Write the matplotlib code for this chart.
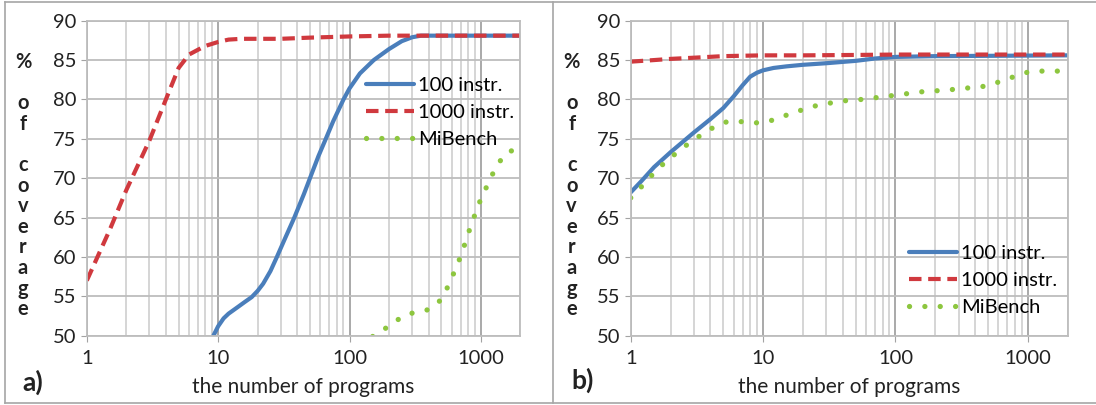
# Coverage vs number of programs, two panels (a, b)

import numpy as np
import matplotlib.pyplot as plt
from matplotlib.lines import Line2D
from matplotlib.ticker import FixedLocator, NullFormatter, LogLocator

plt.rcParams['font.family'] = ['Lato', 'DejaVu Sans']

# ---- panel a) ----
a_1000_x = [1, 1.5, 2, 3, 4, 5, 6, 7, 8, 10, 12, 15, 20, 30, 50, 100, 200, 500, 2000]
a_1000_y = [57.0, 63.5, 68.5, 74.8, 80.0, 84.0, 85.7, 86.3, 86.8, 87.3, 87.6, 87.7, 87.7,
            87.7, 87.85, 88.0, 88.1, 88.1, 88.1]

a_100_x = [9.2, 10, 11, 12, 14, 16, 18, 20, 22, 25, 28, 32, 38, 45, 50, 58, 66, 75, 90, 100,
           120, 153, 200, 250, 300, 350, 500, 2000]
a_100_y = [50, 51.2, 52.2, 52.8, 53.6, 54.3, 54.9, 55.7, 56.6, 58.2, 60, 62.2, 65, 68, 70,
           72.8, 75, 77.2, 80, 81.4, 83.3, 85, 86.4, 87.4, 87.9, 88.1, 88.1, 88.1]

a_mib_x = [150, 183, 218, 263, 321, 398, 480, 537, 590, 641, 700, 750, 803, 861, 927, 1006,
           1106, 1208, 1344, 1523, 1837]
a_mib_y = [49.9, 50.8, 51.7, 52.6, 53.0, 53.3, 54.3, 55.6, 57.0, 58.5, 60.0, 61.5, 63.0, 64.5,
           65.9, 67.5, 68.9, 70.3, 71.7, 73.1, 73.7]

# ---- panel b) ----
b_1000_x = [1, 1.5, 2, 3, 5, 7, 10, 20, 50, 100, 2000]
b_1000_y = [84.8, 85.0, 85.15, 85.3, 85.5, 85.55, 85.6, 85.6, 85.65, 85.7, 85.7]

b_100_x = [1, 1.2, 1.5, 2, 3, 4, 5, 6, 7, 8, 9, 10, 12, 15, 20, 30, 50, 70, 100, 200, 2000]
b_100_y = [68.2, 69.6, 71.4, 73.3, 75.8, 77.5, 78.9, 80.4, 81.8, 82.9, 83.4, 83.7, 84.0, 84.2,
           84.4, 84.6, 84.9, 85.2, 85.4, 85.5, 85.6]

b_mib_x = [1, 1.16, 1.34, 1.55, 1.81, 2.14, 2.54, 3.02, 3.63, 4.37, 5.39, 6.69, 8.21, 10.2,
           12.6, 15.5, 19.1, 23.5, 29.0, 36.0, 44.8, 55.6, 69.1, 85.9, 106, 131, 163, 203,
           252, 312, 388, 482, 598, 732, 903, 1100, 1370, 1700]
b_mib_y = [67.5, 68.6, 69.8, 70.9, 72.0, 73.0, 74.0, 74.9, 75.8, 76.6, 77.2, 77.2, 77.0, 77.1,
           77.5, 78.1, 78.6, 79.1, 79.4, 79.7, 79.9, 80.0, 80.2, 80.4, 80.6, 80.8, 81.0, 81.1,
           81.2, 81.4, 81.5, 81.7, 82.2, 82.7, 83.3, 83.6, 83.6, 83.6]

series_names = ['100 instr.', '1000 instr.', 'MiBench']
x_ticks = [1, 10, 100, 1000]
x_tick_labels = ['1', '10', '100', '1000']
y_ticks = [50, 55, 60, 65, 70, 75, 80, 85, 90]

BLUE = '#4a7ebb'
RED = '#d0393e'
GREEN = '#8dc63f'
TXT = '#222222'

fig = plt.figure(figsize=(10.96, 4.05), dpi=100)
W, H = 1096, 405


def px_axes(x0, x1, ytop, ybot):
    return fig.add_axes([x0 / W, 1 - ybot / H, (x1 - x0) / W, (ybot - ytop) / H])


ax_a = px_axes(86.8, 520.4, 20.7, 335.7)
ax_b = px_axes(630.7, 1067.7, 20.7, 335.7)


def draw(ax, d100, d1000, dmib, leg_xy):
    l1, = ax.plot(d100[0], d100[1], color=BLUE, lw=3.0, solid_capstyle='round')
    l2, = ax.plot(d1000[0], d1000[1], color=RED, lw=3.0, linestyle=(0, (3.0, 1.6)))
    l3, = ax.plot(dmib[0], dmib[1], color=GREEN, lw=3.8, linestyle=(0, (0.01, 2.9)),
                  dash_capstyle='round')
    ax.set_xscale('log')
    ax.set_xlim(1, 2000)
    ax.set_ylim(50, 90)
    ax.xaxis.set_major_locator(FixedLocator(x_ticks))
    ax.set_xticklabels(x_tick_labels)
    ax.xaxis.set_minor_locator(LogLocator(base=10, subs=np.arange(2, 10)))
    ax.xaxis.set_minor_formatter(NullFormatter())
    ax.set_yticks(y_ticks)
    ax.grid(which='major', axis='y', color='#bdbdbd', lw=1.3)
    ax.grid(which='major', axis='x', color='#a3a3a3', lw=1.3)
    ax.grid(which='minor', axis='x', color='#d2d2d2', lw=1.3)
    ax.set_axisbelow(True)
    for s in ax.spines.values():
        s.set_color('#bdbdbd')
        s.set_linewidth(1.3)
    ax.tick_params(axis='both', which='major', length=4.5, color='#a3a3a3',
                   labelsize=14.5, labelcolor=TXT)
    ax.tick_params(axis='x', which='major', pad=6)
    ax.tick_params(axis='x', which='minor', length=0)
    ax.tick_params(axis='y', pad=3)
    ax.set_xlabel('the number of programs', fontsize=15, color=TXT, labelpad=0)
    ax.xaxis.set_label_coords(0.5, -(387 - 335.7) / 315, transform=ax.transAxes)
    ax.xaxis.label.set_va('center')
    ax.legend([l1, l2, l3], series_names, loc='lower left',
              bbox_to_anchor=(leg_xy[0] / W, 1 - leg_xy[1] / H),
              bbox_transform=fig.transFigure, frameon=False, fontsize=14.5,
              handlelength=2.4, handletextpad=0.2, labelspacing=0.5, borderaxespad=0,
              borderpad=0)


draw(ax_a, (a_100_x, a_100_y), (a_1000_x, a_1000_y), (a_mib_x, a_mib_y), (366, 148))
draw(ax_b, (b_100_x, b_100_y), (b_1000_x, b_1000_y), (b_mib_x, b_mib_y), (909, 316))

# stacked y-axis caption, one letter per line
for xc in (23, 571.7):
    for i, ch in enumerate('%\0of\0coverage'):
        if ch == '\0':
            continue
        fig.text(xc / W, 1 - (62 + 20.6 * i) / H, ch, ha='center', va='center',
                 fontsize=14.5, fontweight='bold', color=TXT)

fig.text(33 / W, 1 - 382 / H, 'a)', ha='center', va='center', fontsize=19,
         fontweight='bold', color=TXT)
fig.text(583 / W, 1 - 380 / H, 'b)', ha='center', va='center', fontsize=19,
         fontweight='bold', color=TXT)

# panel frames
frame = dict(color='#a6a6a6', lw=1.2, transform=fig.transFigure)
fig.add_artist(Line2D([5 / W, 5 / W], [1 - 2 / H, 1 - 403 / H], **frame))
fig.add_artist(Line2D([553 / W, 553 / W], [1 - 2 / H, 1 - 403 / H], **frame))
fig.add_artist(Line2D([5 / W, 1], [1 - 2 / H, 1 - 2 / H], **frame))
fig.add_artist(Line2D([5 / W, 1], [1 - 403 / H, 1 - 403 / H], **frame))

fig.savefig('out.png', dpi=100)
